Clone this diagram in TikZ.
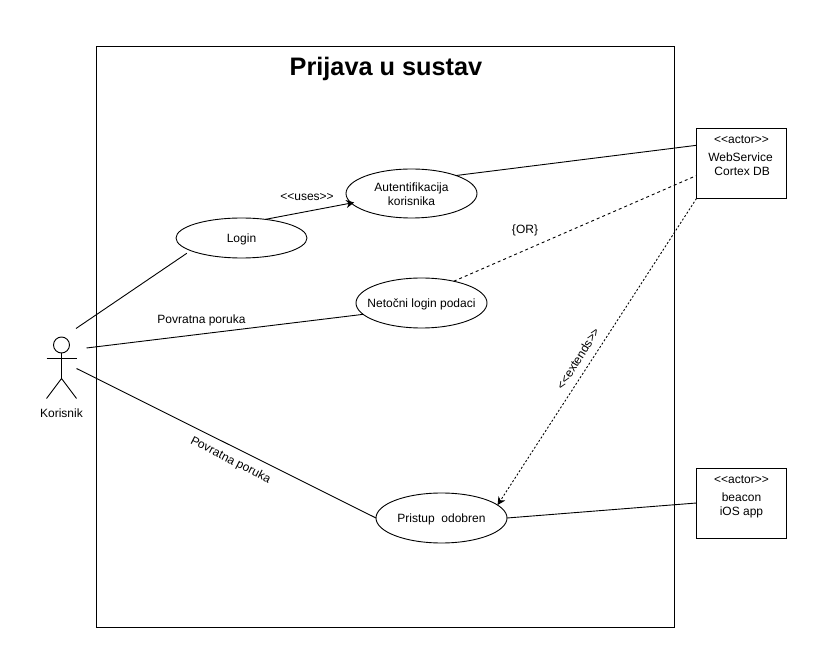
\documentclass[tikz,border=0pt]{standalone}
\usepackage{fontspec}
\setmainfont{Liberation Sans}
\newfontfamily\plainlt{Liberation Sans}
\usetikzlibrary{shapes.geometric,arrows.meta}
\newcommand{\uclabel}[1]{\raisebox{-5pt}[0pt][0pt]{\makebox[0pt]{#1}}}
\tikzset{
  usecase/.style={draw=black,ellipse,line width=0.9pt,inner sep=0pt,outer sep=0pt,minimum width=131pt,align=center,font=\fontsize{12}{14}\selectfont},
  actorbox/.style={draw=black,rectangle,line width=1pt,inner sep=0pt,outer sep=0pt,minimum width=90pt,minimum height=70pt},
  lbl/.style={inner sep=0pt,font=\fontsize{12}{14}\selectfont,align=center},
  stereo/.style={inner sep=0pt,font=\plainlt\fontsize{12}{14}\selectfont,align=center},
  conn/.style={draw=black,line width=0.9pt},
  dashconn/.style={conn,dash pattern=on 3pt off 3pt},
  dotconn/.style={conn,dash pattern=on 2pt off 2pt,-{Stealth[length=8pt,width=8pt,inset=2.5pt]}},
  usesconn/.style={conn,-{Stealth[length=8pt,width=8pt,inset=2.5pt]}},
  stick/.style={draw=black,line width=0.9pt}
}
\begin{document}
\begin{tikzpicture}[x=1pt,y=-1pt]
\useasboundingbox[fill=white] (0,0) rectangle (828,668);
\node[draw=black,line width=1pt,inner sep=0pt,outer sep=0pt,minimum width=577.5pt,minimum height=580pt] (frame) at (385.25,337) {};
\node[inner sep=0pt,font=\fontsize{25.3}{28}\selectfont\bfseries] (title) at (386,68.5) {Prijava u sustav};

\node[usecase,minimum height=40pt] (login) at (241.5,238) {\uclabel{Login}};
\node[usecase,minimum height=49pt] (auth) at (411.5,193.5) {\uclabel{Autentifikacija}\\\uclabel{korisnika}};
\node[usecase,minimum height=50pt] (netocni) at (421.5,303) {\uclabel{Netočni login podaci}};
\node[usecase,minimum height=50pt] (pristup) at (441.5,518) {\uclabel{Pristup\ \ odobren}};

\node[actorbox] (ws) at (741.5,163.5) {};
\node[stereo] (wsa) at (741.5,139.5) {<<actor>>};
\node[lbl] (wsb) at (740.5,164.5) {WebService\\\ Cortex DB};
\node[actorbox] (beacon) at (741.5,503) {};
\node[stereo] (ba) at (741.5,479.5) {<<actor>>};
\node[lbl] (bb) at (741.5,505) {beacon\\iOS app};

% actor
\coordinate (headc) at (61.5,345);
\node[draw=black,circle,line width=0.9pt,minimum size=16pt,inner sep=0pt,outer sep=0pt] (head) at (headc) {};
\coordinate (armL) at (46.5,358);
\coordinate (armR) at (76.5,358);
\coordinate (hip) at (61.5,378.5);
\coordinate (legL) at (46.5,398.5);
\coordinate (legR) at (76.5,398.5);
\draw[stick] (head.south) -- (hip);
\draw[stick] (armL) -- (armR);
\draw[stick] (legL) -- (hip) -- (legR);
\node[lbl] (korisnik) at (61.5,413) {Korisnik};

% free ends
\coordinate (a1) at (76,328.5);
\coordinate (a2) at (86.5,348);
\coordinate (a3) at (76.5,368.5);
\coordinate (l1) at (186.8,253.3);

\draw[conn] (a1) -- (l1);
\draw[conn] (a2) -- (netocni.191.7);
\draw[conn] (a3) -- (pristup.west);
\draw[usesconn,shorten >=-3pt] (login.38) -- (auth.189);
\draw[conn] (auth.22) -- (ws.158.2);
\draw[dashconn] (netocni.34) -- (ws.195);
\draw[dotconn] (ws.south west) -- (pristup.13);
\draw[conn] (pristup.east) -- (beacon.west);

\node[stereo] (uses) at (307,197) {<<uses>>};
\node[lbl] (or) at (525,230) {\{OR\}};
\node[lbl] (pp1) at (201.5,320) {Povratna poruka};
\node[lbl,rotate=-27] (pp2) at (230.5,460.5) {Povratna poruka};
\node[stereo,rotate=58] (ext) at (578,358.5) {<<extends>>};
\end{tikzpicture}
\end{document}
